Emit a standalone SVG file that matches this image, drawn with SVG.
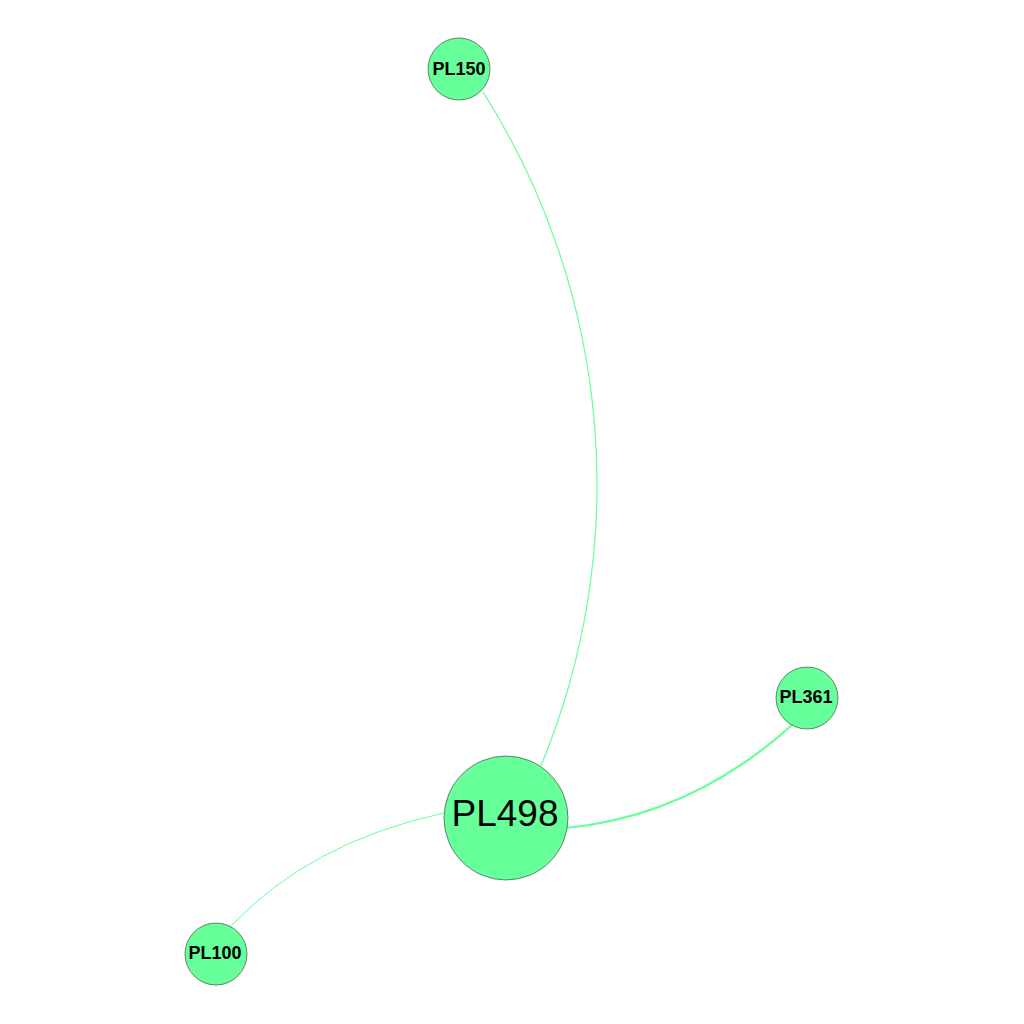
<svg xmlns="http://www.w3.org/2000/svg" width="1024" height="1024" viewBox="0 0 1024 1024">
<style>
.edge{fill:none;stroke:#66ff99}
.node{fill:#66ff99;stroke:#333;stroke-width:0.6}
.lbl{font-family:"Liberation Sans",Arial,sans-serif;fill:#000;text-anchor:middle}
.small{font-size:18px;font-weight:bold}
.big{font-size:37px}
</style>
<rect width="1024" height="1024" fill="#fff"/>
<g id="edges">
<path class="edge" stroke-width="1.2" d="M483,92 A733,733 0 0 1 540,768"/>
<path class="edge" stroke-width="2.2" d="M566,828 Q691,816 792,725"/>
<path class="edge" stroke-width="1" d="M444,813 Q310,842 230,927"/>
</g>
<g id="PL150"><circle class="node" cx="459" cy="69" r="31"/><text class="lbl small" x="459" y="75">PL150</text></g>
<g id="PL361"><circle class="node" cx="807" cy="698" r="31"/><text class="lbl small" x="806" y="703">PL361</text></g>
<g id="PL100"><circle class="node" cx="216" cy="954" r="31"/><text class="lbl small" x="215" y="959">PL100</text></g>
<g id="PL498"><circle class="node" cx="506" cy="818" r="62"/><text class="lbl big" x="505" y="826">PL498</text></g>
</svg>
